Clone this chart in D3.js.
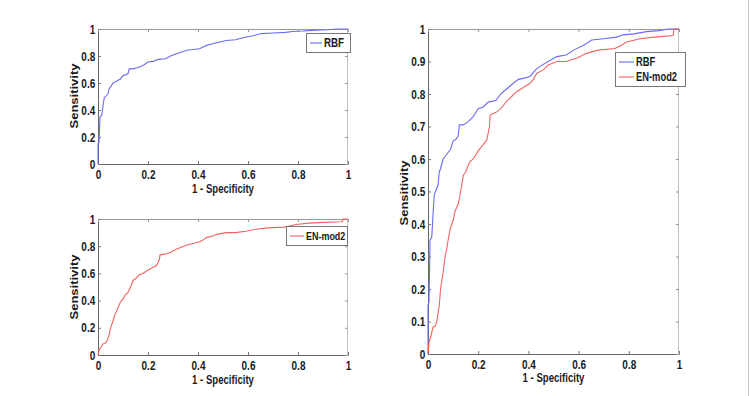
<!DOCTYPE html>
<html>
<head>
<meta charset="utf-8">
<script src="https://cdn.jsdelivr.net/npm/d3@7"></script>
<style>
	html, body { margin:0; padding:0; background:#fff; }
	svg { display:block; }
	.tick text { font-family:'Liberation Sans', Arial, sans-serif; font-weight:bold; fill:#1a1a1a; }
	.axis-label, .legend-text { font-family:'Liberation Sans', Arial, sans-serif; font-weight:bold; fill:#1a1a1a; }
</style>
</head>
<body>
<svg id="chart" width="753" height="396"></svg>
<script>
// ROC curves
const seriesNames = ['RBF', 'EN-mod2'];
const seriesColors = ['#6a6af0', '#f06464'];

const rbfFpr = [0, 0, 0.004, 0.006, 0.008, 0.015, 0.02, 0.025, 0.03, 0.04, 0.045, 0.05, 0.06, 0.07, 0.08, 0.09, 0.1, 0.11, 0.12, 0.125, 0.14, 0.16, 0.18, 0.2, 0.22, 0.24, 0.27, 0.29, 0.3, 0.32, 0.34, 0.36, 0.38, 0.406, 0.43, 0.446, 0.479, 0.513, 0.55, 0.58, 0.62, 0.652, 0.7, 0.75, 0.778, 0.82, 0.871, 0.92, 0.957, 1];
const rbfTpr = [0, 0.15, 0.16, 0.25, 0.35, 0.36, 0.43, 0.49, 0.5, 0.52, 0.56, 0.57, 0.6, 0.61, 0.62, 0.63, 0.655, 0.66, 0.67, 0.705, 0.705, 0.715, 0.73, 0.755, 0.76, 0.775, 0.78, 0.8, 0.807, 0.82, 0.833, 0.845, 0.848, 0.854, 0.875, 0.885, 0.9, 0.915, 0.92, 0.935, 0.95, 0.966, 0.97, 0.975, 0.982, 0.985, 0.992, 0.995, 1, 1];

const enFpr = [0, 0.005, 0.01, 0.02, 0.028, 0.035, 0.045, 0.05, 0.06, 0.068, 0.074, 0.08, 0.09, 0.1, 0.108, 0.12, 0.13, 0.141, 0.15, 0.165, 0.18, 0.2, 0.215, 0.234, 0.245, 0.248, 0.26, 0.274, 0.29, 0.313, 0.33, 0.353, 0.38, 0.406, 0.42, 0.433, 0.46, 0.479, 0.513, 0.55, 0.592, 0.632, 0.678, 0.745, 0.77, 0.791, 0.845, 0.9, 0.977, 0.98, 1];
const enTpr = [0, 0.04, 0.05, 0.083, 0.085, 0.1, 0.15, 0.2, 0.25, 0.3, 0.32, 0.35, 0.39, 0.41, 0.44, 0.46, 0.5, 0.55, 0.56, 0.59, 0.6, 0.625, 0.64, 0.658, 0.7, 0.735, 0.74, 0.745, 0.755, 0.777, 0.79, 0.807, 0.82, 0.833, 0.845, 0.863, 0.875, 0.889, 0.9, 0.9, 0.91, 0.925, 0.935, 0.94, 0.95, 0.96, 0.97, 0.975, 0.98, 1, 1];

const xTicks = [0, 0.2, 0.4, 0.6, 0.8, 1];
const yTicksSmall = [0, 0.2, 0.4, 0.6, 0.8, 1];
const yTicksBig = [0, 0.1, 0.2, 0.3, 0.4, 0.5, 0.6, 0.7, 0.8, 0.9, 1];

const xAxisLabel = '1 - Specificity';
const yAxisLabel = 'Sensitivity';

const rbf = rbfFpr.map((d,i) => ({x:d, y:rbfTpr[i]}));
const en = enFpr.map((d,i) => ({x:d, y:enTpr[i]}));

const svg = d3.select('#chart');
const SQ = 0.8; // the picture's text is squeezed sideways

// thin grey edge at the right of the screenshot
svg.append('line')
	.attr('x1',748.5).attr('x2',748.5)
	.attr('y1',0).attr('y2',396)
	.attr('stroke','#c8c8c8');

const fmt = d3.format('~g');

const panel = (o) => {
	const W = o.width, H = o.height;
	const g = svg.append('g').attr('transform',`translate(${o.left},${o.top})`);
	
	const xScale = d3.scaleLinear().domain([0,1]).range([0,W]);
	const yScale = d3.scaleLinear().domain([0,1]).range([H,0]);
	
	// box: left/bottom darker, top/right lighter
	g.append('line').attr('x1',0).attr('x2',W).attr('y1',0.5).attr('y2',0.5).attr('stroke','#9a9a9a');
	g.append('line').attr('x1',W-0.5).attr('x2',W-0.5).attr('y1',0).attr('y2',H).attr('stroke','#c0c0c0');
	
	const xAxisG = g.append('g')
		.attr('transform',`translate(0,${H})`)
		.call(d3.axisBottom(xScale).tickValues(xTicks).tickSize(-3).tickSizeOuter(0).tickPadding(6).tickFormat(fmt));
	xAxisG.select('.domain').attr('stroke','#666');
	xAxisG.selectAll('.tick line').attr('stroke','#777');
	xAxisG.selectAll('.tick text').attr('font-size',12.5).attr('transform',`scale(${SQ},1)`);
	
	const yAxisG = g.append('g')
		.call(d3.axisLeft(yScale).tickValues(o.yTicks).tickSize(-3).tickSizeOuter(0).tickPadding(3.5).tickFormat(fmt));
	yAxisG.select('.domain').attr('stroke','#666');
	yAxisG.selectAll('.tick line').attr('stroke','#777');
	yAxisG.selectAll('.tick text').attr('font-size',12.5).attr('transform',`scale(${SQ},1)`);
	
	const topG = g.append('g')
		.call(d3.axisTop(xScale).tickValues(xTicks).tickSize(-3).tickSizeOuter(0).tickFormat(''));
	topG.select('.domain').remove();
	topG.selectAll('.tick line').attr('stroke','#999');
	
	const rightG = g.append('g')
		.attr('transform',`translate(${W},0)`)
		.call(d3.axisRight(yScale).tickValues(o.yTicks).tickSize(-3).tickSizeOuter(0).tickFormat(''));
	rightG.select('.domain').remove();
	rightG.selectAll('.tick line').attr('stroke','#999');
	
	// axis labels
	g.append('text')
		.attr('class','axis-label')
		.attr('font-size',12)
		.attr('text-anchor','middle')
		.attr('transform',`translate(${W/2},${H+o.xLabelDy}) scale(0.8,1)`)
		.text(xAxisLabel);
	
	g.append('text')
		.attr('class','axis-label')
		.attr('font-size',13)
		.attr('text-anchor','middle')
		.attr('transform',`translate(${o.yLabelX - o.left},${o.yLabelY - o.top}) rotate(-90) scale(1,0.78)`)
		.text(yAxisLabel);
	
	const lineGenerator = d3.line()
		.x(d => xScale(d.x))
		.y(d => yScale(d.y));
	
	o.series.forEach(s => {
		g.append('path')
			.attr('d', lineGenerator(s.data))
			.attr('fill','none')
			.attr('stroke', s.color)
			.attr('stroke-width',1.1);
	});
	
	// legend
	const L = o.legend;
	const lg = svg.append('g').attr('transform',`translate(${L.x},${L.y})`);
	lg.append('rect')
		.attr('x',0.5).attr('y',0.5)
		.attr('width',L.w).attr('height',L.h)
		.attr('fill','#fff')
		.attr('stroke','#777');
	o.series.forEach((s,i) => {
		const cy = L.pad + i*L.step;
		lg.append('line')
			.attr('x1',4).attr('x2',4+L.lineLen)
			.attr('y1',cy).attr('y2',cy)
			.attr('stroke',s.color)
			.attr('stroke-width',1.1);
		lg.append('text')
			.attr('class','legend-text')
			.attr('font-size',L.fs)
			.attr('transform',`translate(${6+L.lineLen},${cy+4}) scale(0.78,1)`)
			.text(s.name);
	});
};

const rbfSeries = {name:seriesNames[0], color:seriesColors[0], data:rbf};
const enSeries = {name:seriesNames[1], color:seriesColors[1], data:en};

panel({
	left:98, top:29, width:250, height:135,
	yTicks:yTicksSmall, series:[rbfSeries],
	xLabelDy:28.5, yLabelX:78, yLabelY:96,
	legend:{x:306, y:33, w:44, h:19, pad:10, step:15, lineLen:12, fs:12.5}
});

panel({
	left:98, top:219, width:250, height:136,
	yTicks:yTicksSmall, series:[enSeries],
	xLabelDy:28.5, yLabelX:78, yLabelY:287,
	legend:{x:286, y:226, w:61, h:19, pad:10, step:15, lineLen:14, fs:11.5}
});

panel({
	left:428, top:29, width:251, height:325,
	yTicks:yTicksBig, series:[rbfSeries, enSeries],
	xLabelDy:28, yLabelX:408, yLabelY:193,
	legend:{x:615, y:52, w:70, h:34, pad:10, step:15, lineLen:15, fs:12}
});
</script>
</body>
</html>
